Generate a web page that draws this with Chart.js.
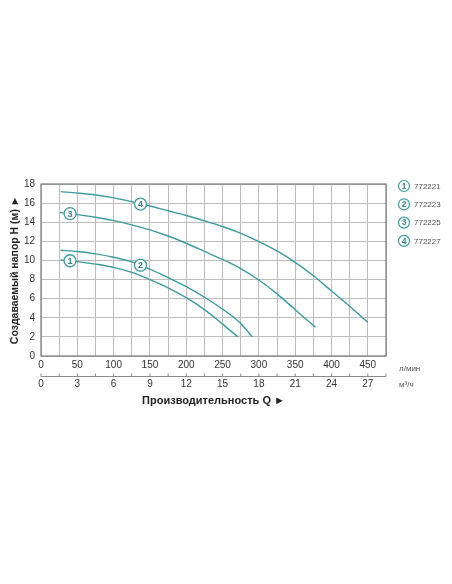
<!DOCTYPE html>
<html>
<head>
<meta charset="utf-8">
<script src="https://cdn.jsdelivr.net/npm/chart.js@4.4.1/dist/chart.umd.min.js"></script>
<style>
  html, body { margin: 0; padding: 0; background: #fff; }
  #wrap { width: 452px; height: 584px; position: relative; }
</style>
</head>
<body>
<div id="wrap"><canvas id="pump-chart"></canvas></div>
<script>
// values: Q in l/min, H in m
var models = ["772221", "772223", "772225", "772227"];

var q1 = [27, 50, 75, 100, 125, 150, 175, 200, 225, 250, 271];
var h1 = [10.05, 9.88, 9.62, 9.28, 8.76, 8.0, 7.14, 6.1, 4.85, 3.34, 2.0];

var q2 = [27, 50, 75, 100, 125, 150, 175, 200, 225, 250, 275, 291];
var h2 = [11.07, 10.93, 10.69, 10.34, 9.85, 9.1, 8.2, 7.25, 6.15, 4.9, 3.4, 2.0];

var q3 = [26, 50, 75, 100, 125, 150, 175, 200, 225, 250, 275, 300, 325, 350, 378];
var h3 = [15.0, 14.8, 14.52, 14.17, 13.72, 13.2, 12.56, 11.8, 10.95, 10.1, 9.15, 7.95, 6.5, 4.85, 3.0];

var q4 = [27, 50, 75, 100, 125, 150, 175, 200, 225, 250, 275, 300, 325, 350, 375, 400, 425, 450];
var h4 = [17.2, 17.05, 16.85, 16.55, 16.15, 15.7, 15.2, 14.7, 14.15, 13.55, 12.84, 11.97, 11.0, 9.8, 8.4, 6.8, 5.2, 3.5];

// positions of the numbered circles on the curves
var markQ = [40, 137, 40, 137];
var markH = [9.97, 9.5, 14.9, 15.9];

var qMax = 475;     // l/min
var hMax = 18;
var m3Max = 28.5;   // 475 l/min in m3/h

var teal = "#3f9aa0";
var tealText = "#3b858b";
var font = "'Liberation Sans', Arial, sans-serif";

function pts(q, h) {
  return q.map(function (v, i) { return { x: v, y: h[i] }; });
}

var curves = [pts(q1, h1), pts(q2, h2), pts(q3, h3), pts(q4, h4)];

var datasets = curves.map(function (d, i) {
  return {
    label: models[i],
    data: d,
    borderColor: teal,
    borderWidth: 1.4,
    pointRadius: 0,
    cubicInterpolationMode: "monotone",
    fill: false,
    order: 1
  };
});

datasets.push({
  label: "marks",
  data: markQ.map(function (v, i) { return { x: v, y: markH[i] }; }),
  showLine: false,
  pointRadius: 6,
  pointBorderWidth: 1.3,
  pointBorderColor: teal,
  pointBackgroundColor: "#fff",
  order: -1
});

var extras = {
  id: "extras",
  afterDraw: function (chart) {
    var ctx = chart.ctx;
    var a = chart.chartArea;
    var sx = chart.scales.x;
    var sy = chart.scales.y;
    var s2 = chart.scales.x2;
    ctx.save();

    // frame
    ctx.strokeStyle = "#7a7a7a";
    ctx.lineWidth = 1.2;
    ctx.strokeRect(a.left, a.top, a.right - a.left, a.bottom - a.top);

    // numbers in the circles
    ctx.fillStyle = tealText;
    ctx.font = "bold 9px " + font;
    ctx.textAlign = "center";
    ctx.textBaseline = "middle";
    markQ.forEach(function (v, i) {
      ctx.fillText(String(i + 1), sx.getPixelForValue(v), sy.getPixelForValue(markH[i]) + 0.5);
    });

    // small ticks on the m3/h line
    ctx.strokeStyle = "#8a8a8a";
    ctx.lineWidth = 1;
    var yl = s2.top + 0.5;
    for (var t = 0; t <= m3Max + 0.01; t += 1.5) {
      var px = s2.getPixelForValue(t);
      ctx.beginPath();
      ctx.moveTo(px, yl);
      ctx.lineTo(px, yl - 3);
      ctx.stroke();
    }
    ctx.beginPath();
    ctx.moveTo(s2.left, yl);
    ctx.lineTo(s2.right, yl);
    ctx.stroke();

    // unit labels
    ctx.fillStyle = "#555";
    ctx.font = "8px " + font;
    ctx.textAlign = "left";
    ctx.fillText("л/мин", 399, 369);
    ctx.fillText("м³/ч", 399, 385);

    // legend
    models.forEach(function (m, i) {
      var cy = 186 + i * 18.3;
      var cx = 404;
      ctx.beginPath();
      ctx.arc(cx, cy, 5.5, 0, Math.PI * 2);
      ctx.fillStyle = "#fff";
      ctx.fill();
      ctx.strokeStyle = teal;
      ctx.lineWidth = 1.2;
      ctx.stroke();
      ctx.fillStyle = tealText;
      ctx.font = "bold 8.5px " + font;
      ctx.textAlign = "center";
      ctx.fillText(String(i + 1), cx, cy + 0.5);
      ctx.fillStyle = "#555";
      ctx.font = "8px " + font;
      ctx.textAlign = "left";
      ctx.fillText(m, 414, cy + 0.5);
    });
    ctx.restore();
  }
};

new Chart(document.getElementById("pump-chart"), {
  type: "line",
  data: { datasets: datasets },
  plugins: [extras],
  options: {
    responsive: true,
    maintainAspectRatio: false,
    animation: false,
    layout: { padding: { top: 184, right: 66, bottom: 176, left: 0 } },
    plugins: {
      legend: { display: false },
      tooltip: { enabled: false }
    },
    scales: {
      x: {
        type: "linear",
        position: "bottom",
        min: 0,
        max: qMax,
        grid: { color: "#bcbcbc", lineWidth: 1, drawTicks: false },
        border: { display: false },
        ticks: {
          stepSize: 25,
          autoSkip: false,
          maxRotation: 0,
          padding: 3,
          color: "#333",
          font: { family: font, size: 10 },
          callback: function (v) { return v % 50 === 0 && v <= 450 ? v : ""; }
        },
        afterFit: function (s) { s.height = 20; }
      },
      x2: {
        type: "linear",
        position: "bottom",
        min: 0,
        max: m3Max,
        grid: { display: false, drawTicks: false },
        border: { display: false },
        ticks: {
          stepSize: 1.5,
          autoSkip: false,
          maxRotation: 0,
          padding: 2,
          color: "#333",
          font: { family: font, size: 10 },
          callback: function (v) { return v % 3 === 0 && v <= 27 ? v : ""; }
        },
        title: {
          display: true,
          text: "Производительность Q ►",
          color: "#222",
          padding: { top: 2, bottom: 0 },
          font: { family: font, size: 11, weight: "bold" }
        },
        afterFit: function (s) { s.height = 32; }
      },
      y: {
        type: "linear",
        min: 0,
        max: hMax,
        grid: { color: "#bcbcbc", lineWidth: 1, drawTicks: false },
        border: { display: false },
        ticks: {
          stepSize: 2,
          padding: 6,
          color: "#333",
          font: { family: font, size: 10 }
        },
        title: {
          display: true,
          text: "Создаваемый напор Н (м) ►",
          color: "#222",
          padding: { top: 9, bottom: 0 },
          font: { family: font, size: 10.5, weight: "bold" }
        },
        afterFit: function (s) { s.width = 41; }
      }
    }
  }
});
</script>
</body>
</html>
